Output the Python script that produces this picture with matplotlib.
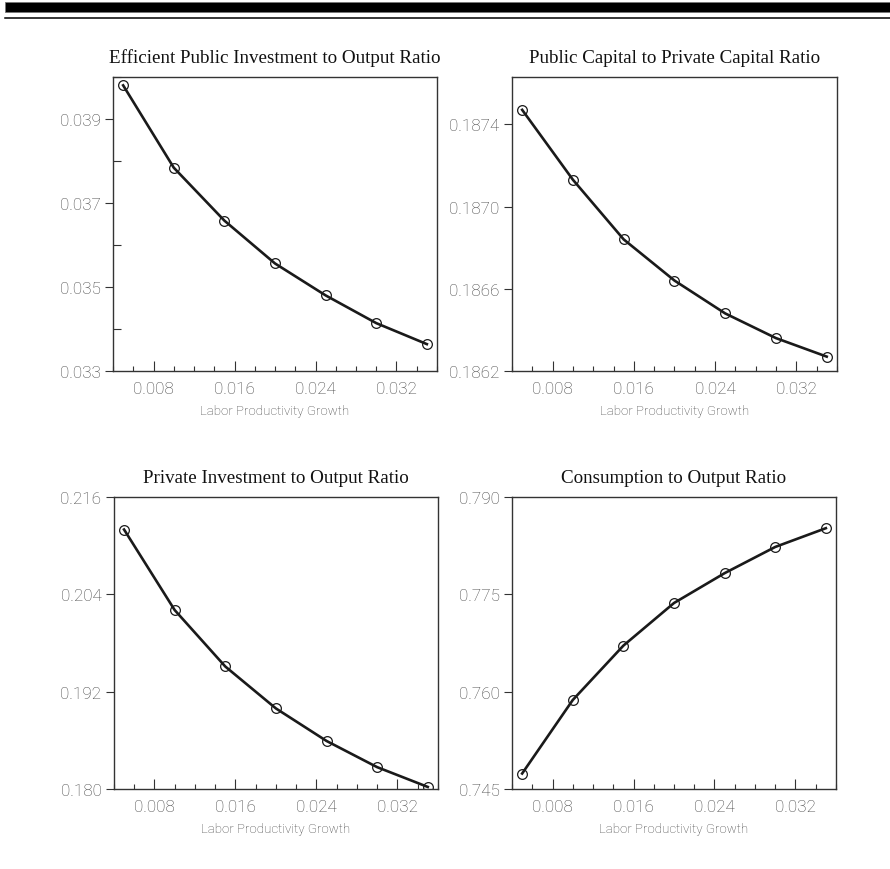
import matplotlib
matplotlib.use("Agg")
import matplotlib.pyplot as plt
from matplotlib.patches import Rectangle
from matplotlib.lines import Line2D
from matplotlib.ticker import FormatStrFormatter, MultipleLocator

# labor productivity growth (x axis, shared by all panels)
growth = [0.005, 0.010, 0.015, 0.020, 0.025, 0.030, 0.035]

# values
public_inv = [0.0398, 0.03784, 0.03658, 0.03556, 0.0348, 0.03414, 0.03364]
kg_k_ratio = [0.18747, 0.18713, 0.18684, 0.18664, 0.18648, 0.18636, 0.18627]
private_inv = [0.21199, 0.20206, 0.1951, 0.18993, 0.18592, 0.18269, 0.18025]
consumption = [0.74738, 0.75871, 0.76709, 0.77366, 0.77826, 0.7823, 0.78519]

titles = ["Efficient Public Investment to Output Ratio",
          "Public Capital to Private Capital Ratio",
          "Private Investment to Output Ratio",
          "Consumption to Output Ratio"]
yticks = [[0.033, 0.035, 0.037, 0.039],
          [0.1862, 0.1866, 0.1870, 0.1874],
          [0.180, 0.192, 0.204, 0.216],
          [0.745, 0.760, 0.775, 0.790]]
ylims = [(0.033, 0.040), (0.1862, 0.18763), (0.180, 0.216), (0.745, 0.790)]
yfmt = ["%.3f", "%.4f", "%.3f", "%.3f"]
xticks = [0.008, 0.016, 0.024, 0.032]
series = [public_inv, kg_k_ratio, private_inv, consumption]

fig = plt.figure(figsize=(8.9, 8.7), dpi=100)

# header rules
fig.add_artist(Rectangle((0.006, 0.9851), 0.994, 0.0115, transform=fig.transFigure,
                         facecolor="black", edgecolor="#777777", linewidth=0.6))
fig.add_artist(Line2D([0.006, 1.0], [0.9787, 0.9787], transform=fig.transFigure,
                      color="black", linewidth=1.1))

boxes = [[0.127, 0.5724, 0.364, 0.338],
         [0.5753, 0.5724, 0.365, 0.338],
         [0.128, 0.092, 0.364, 0.3356],
         [0.5753, 0.092, 0.364, 0.3356]]

tick_family = ["Roboto", "DejaVu Sans"]
tick_color = "#444444"

for i in range(4):
    ax = fig.add_axes(boxes[i])
    ax.plot(growth, series[i], color="#1a1a1a", linewidth=1.9, marker="o",
            markersize=7, markerfacecolor="none", markeredgecolor="#1a1a1a",
            markeredgewidth=0.9)
    ax.set_xlim(0.004, 0.036)
    ax.set_ylim(*ylims[i])
    ax.set_xticks(xticks)
    ax.xaxis.set_minor_locator(MultipleLocator(0.002))
    ax.set_yticks(yticks[i])
    ax.yaxis.set_major_formatter(FormatStrFormatter(yfmt[i]))
    if i == 0:
        ax.yaxis.set_minor_locator(MultipleLocator(0.001))
        ax.tick_params(axis="y", which="minor", direction="in", length=6, width=0.8, color="#333333")
    else:
        ax.yaxis.set_minor_locator(plt.NullLocator())
    ax.tick_params(axis="x", which="major", direction="in", length=7, width=0.8, color="#333333", pad=7)
    ax.tick_params(axis="x", which="minor", direction="in", length=3.5, width=0.8, color="#333333")
    ax.tick_params(axis="y", which="major", direction="out", length=6, width=0.8, color="#333333", pad=3)
    for lab in ax.get_xticklabels() + ax.get_yticklabels():
        lab.set_fontfamily(tick_family)
        lab.set_fontweight("light")
        lab.set_fontsize(12.3)
        lab.set_color(tick_color)
    for sp in ax.spines.values():
        sp.set_color("#333333")
        sp.set_linewidth(1.0)
    ax.set_title(titles[i], family="Liberation Serif", fontsize=13.7, pad=11, color="#111111")
    ax.set_xlabel("Labor Productivity Growth", family=tick_family, fontweight="light",
                  fontsize=9.5, color=tick_color, labelpad=6)

fig.savefig("out.png", dpi=100, facecolor="white")
